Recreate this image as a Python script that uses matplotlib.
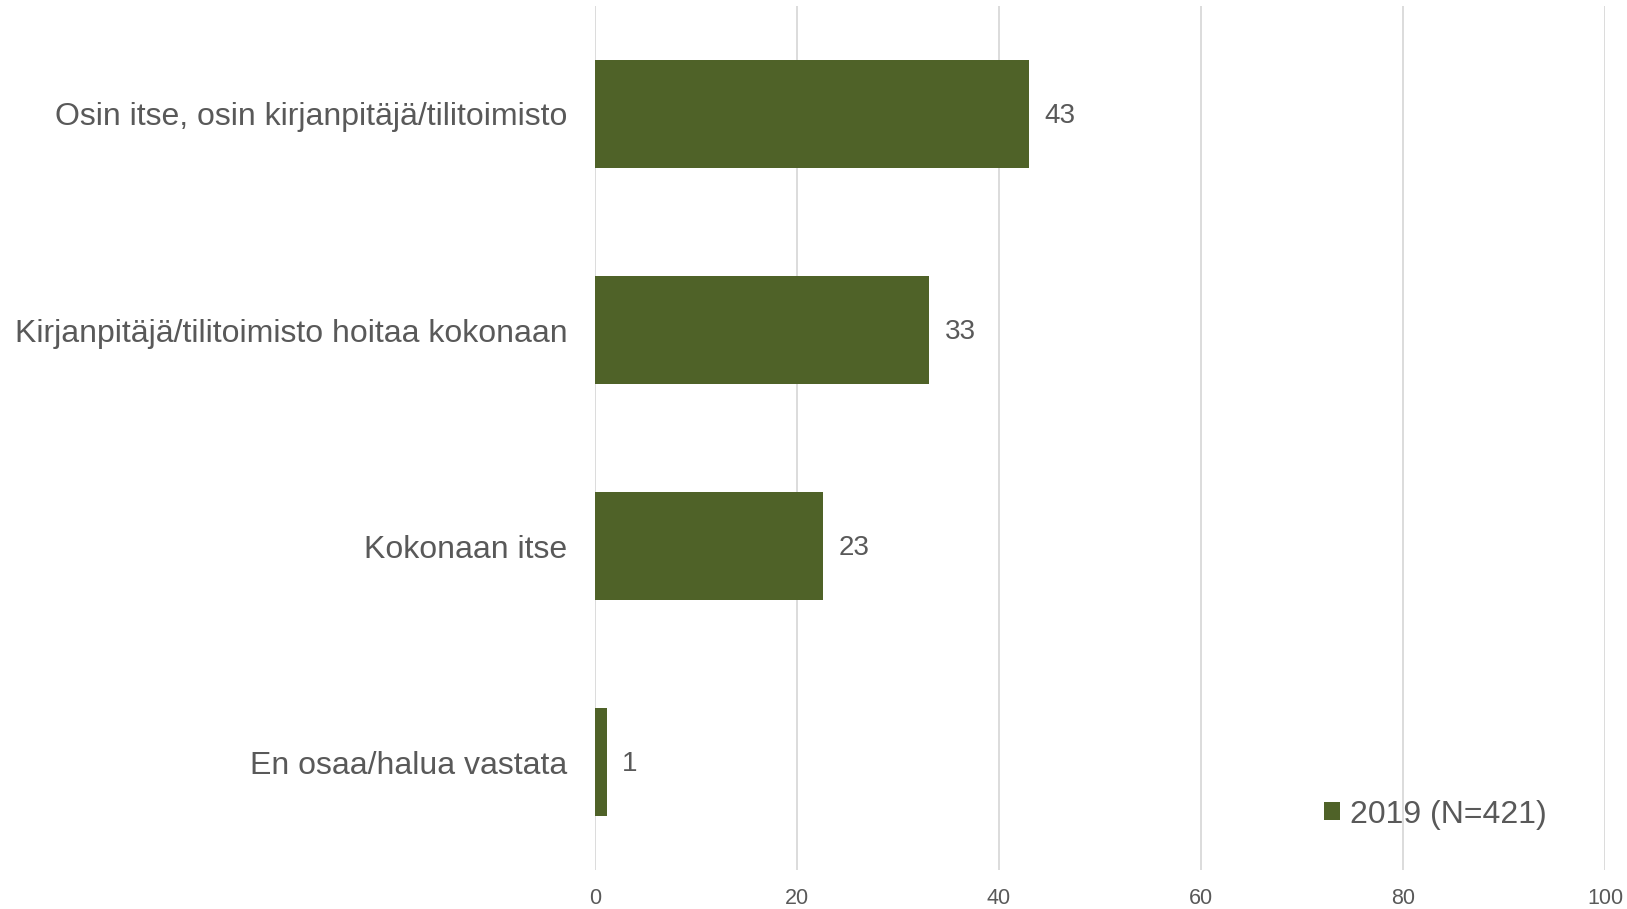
import matplotlib.pyplot as plt
from matplotlib.patches import Patch

categories = ['Osin itse, osin kirjanpitäjä/tilitoimisto',
              'Kirjanpitäjä/tilitoimisto hoitaa kokonaan',
              'Kokonaan itse',
              'En osaa/halua vastata']
values = [43.0, 33.1, 22.6, 1.2]
value_labels = ['43', '33', '23', '1']
xticks = [0, 20, 40, 60, 80, 100]
series_name = '2019 (N=421)'

bar_color = '#4F6228'
text_color = '#595959'
grid_color = '#D9D9D9'

plt.rcParams['font.family'] = ['Liberation Sans', 'DejaVu Sans']

fig = plt.figure(figsize=(16.27, 9.09), dpi=100)
ax = fig.add_axes([0.3657, 0.0429, 0.6208, 0.9505])

ypos = list(range(len(categories)))
ax.barh(ypos, values, height=0.5, color=bar_color, zorder=3)
for y, v, lab in zip(ypos, values, value_labels):
    ax.text(v + 1.5, y + 0.01, lab, va='center', ha='left', fontsize=20, color=text_color)

ax.set_xlim(0, 100)
ax.set_ylim(len(categories) - 0.5, -0.5)
ax.set_yticks(ypos)
ax.set_yticklabels(categories, fontsize=23, color=text_color)
ax.set_xticks(xticks)
ax.set_xticklabels([str(t) for t in xticks], fontsize=15.5, color=text_color)
ax.tick_params(axis='both', length=0)
ax.tick_params(axis='y', pad=20)
ax.tick_params(axis='x', pad=13)
ax.xaxis.grid(True, color=grid_color, linewidth=1.3, zorder=0)
for s in ax.spines.values():
    s.set_visible(False)

handle = Patch(facecolor=bar_color, edgecolor='none')
ax.legend([handle], [series_name], loc='center left', bbox_to_anchor=(0.722, 0.064),
          frameon=False, fontsize=23, labelcolor=text_color, handlelength=0.5,
          handleheight=0.5, handletextpad=0.3, borderpad=0, borderaxespad=0)

fig.savefig('out.png', dpi=100)
